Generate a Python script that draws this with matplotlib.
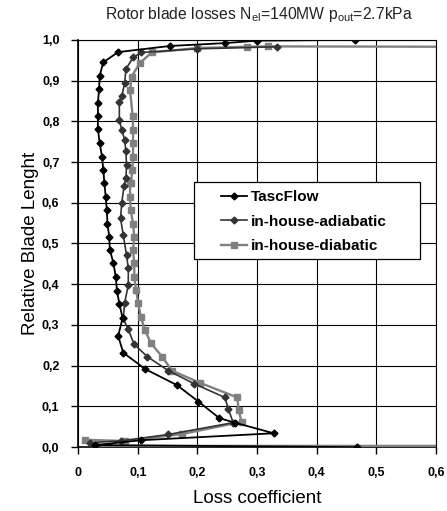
import matplotlib
matplotlib.use("Agg")
import matplotlib.pyplot as plt
from matplotlib.ticker import FixedLocator, FuncFormatter
from matplotlib.patches import Rectangle

plt.rcParams['font.family'] = ['Liberation Sans', 'DejaVu Sans']

# ---- data (loss coefficient vs relative blade length) ----
tasc_x = [0.467, 0.028, 0.106, 0.328, 0.263, 0.237, 0.2015, 0.166, 0.112, 0.0755,
          0.067, 0.0745, 0.069, 0.065, 0.063, 0.059, 0.053, 0.052, 0.049, 0.048,
          0.046, 0.044, 0.042, 0.040, 0.036, 0.033, 0.033, 0.033, 0.035, 0.036,
          0.042, 0.067, 0.154, 0.246, 0.300, 0.465]
tasc_y = [0.000, 0.005, 0.017, 0.034, 0.060, 0.071, 0.112, 0.152, 0.192, 0.232,
          0.273, 0.317, 0.352, 0.384, 0.418, 0.452, 0.485, 0.517, 0.549, 0.582,
          0.615, 0.648, 0.681, 0.713, 0.746, 0.781, 0.812, 0.846, 0.879, 0.912,
          0.945, 0.970, 0.985, 0.992, 0.998, 1.000]

adia_x = [0.030, 0.020, 0.072, 0.151, 0.260, 0.252, 0.246, 0.194, 0.151, 0.116,
          0.0935, 0.084, 0.0755, 0.078, 0.084, 0.084, 0.081, 0.0755, 0.071, 0.073,
          0.077, 0.080, 0.081, 0.080, 0.078, 0.073, 0.069, 0.069, 0.073, 0.078,
          0.080, 0.092, 0.106, 0.200, 0.333]
adia_y = [0.003, 0.011, 0.0155, 0.031, 0.060, 0.093, 0.122, 0.156, 0.188, 0.222,
          0.253, 0.289, 0.316, 0.355, 0.398, 0.439, 0.472, 0.521, 0.562, 0.600,
          0.642, 0.660, 0.693, 0.726, 0.754, 0.779, 0.803, 0.848, 0.861, 0.895,
          0.928, 0.957, 0.969, 0.978, 0.983]

diab_x = [0.650, 0.030, 0.011, 0.078, 0.174, 0.274, 0.269, 0.267, 0.204, 0.157,
          0.141, 0.122, 0.112, 0.105, 0.1007, 0.097, 0.094, 0.094, 0.092, 0.094,
          0.092, 0.088, 0.087, 0.087, 0.0885, 0.0907, 0.092, 0.092, 0.092, 0.0913,
          0.087, 0.0896, 0.1035, 0.123, 0.200, 0.283, 0.319, 0.650]
diab_y = [0.003, 0.003, 0.018, 0.015, 0.032, 0.062, 0.091, 0.122, 0.158, 0.188,
          0.222, 0.255, 0.287, 0.320, 0.353, 0.386, 0.418, 0.451, 0.484, 0.517,
          0.549, 0.582, 0.615, 0.648, 0.648, 0.681, 0.713, 0.746, 0.779, 0.812,
          0.877, 0.910, 0.943, 0.969, 0.980, 0.983, 0.984, 0.983]

series_labels = ["TascFlow", "in-house-adiabatic", "in-house-diabatic"]
x_ticks = [0.0, 0.1, 0.2, 0.3, 0.4, 0.5, 0.6]
y_ticks = [0.0, 0.1, 0.2, 0.3, 0.4, 0.5, 0.6, 0.7, 0.8, 0.9, 1.0]

fig = plt.figure(figsize=(4.47, 5.11), dpi=100)
ax = fig.add_axes([0.175, 0.125, 0.80, 0.797])

ax.plot(tasc_x, tasc_y, color='#000000', lw=1.3, marker='D', ms=3.5,
        label=series_labels[0], zorder=5)
ax.plot(adia_x, adia_y, color='#333333', lw=1.2, marker='D', ms=3.5,
        label=series_labels[1], zorder=4)
ax.plot(diab_x, diab_y, color='#808080', lw=1.7, marker='s', ms=3.8,
        label=series_labels[2], zorder=3)

ax.set_xlim(0, 0.6)
ax.set_ylim(0, 1.0)
ax.xaxis.set_major_locator(FixedLocator(x_ticks))
ax.yaxis.set_major_locator(FixedLocator(y_ticks))

def xfmt(v, pos):
    return "0" if abs(v) < 1e-9 else f"{v:.1f}".replace('.', ',')

def yfmt(v, pos):
    return f"{v:.1f}".replace('.', ',')

ax.xaxis.set_major_formatter(FuncFormatter(xfmt))
ax.yaxis.set_major_formatter(FuncFormatter(yfmt))

ax.grid(True, color='black', lw=0.8)
ax.set_axisbelow(True)
for s in ['left', 'bottom']:
    ax.spines[s].set_linewidth(1.2)
    ax.spines[s].set_color('black')
for s in ['top', 'right']:
    ax.spines[s].set_linewidth(0.8)
    ax.spines[s].set_color('black')

ax.tick_params(axis='both', direction='out', length=5, width=1, color='black',
               labelsize=9)
ax.tick_params(axis='x', pad=9)
ax.tick_params(axis='y', pad=8.5)
for lab in ax.get_xticklabels() + ax.get_yticklabels():
    lab.set_fontweight('bold')

ax.set_xlabel("Loss coefficient", fontsize=13.5, labelpad=8)
ax.set_ylabel("Relative Blade Lenght", fontsize=13.5, labelpad=2)

fig.text(0.58, 0.971, r"Rotor blade losses N$_{\mathregular{el}}$=140MW p$_{\mathregular{out}}$=2.7kPa",
         ha='center', va='center', fontsize=11.3, color='#222222')

# legend frame (Excel style, wide horizontal padding)
ax.add_patch(Rectangle((0.324, 0.461), 0.632, 0.191, transform=ax.transAxes,
                       facecolor='white', edgecolor='black', lw=0.9, zorder=9,
                       clip_on=False))
leg = ax.legend(loc='upper left', bbox_to_anchor=(0.398, 0.631), borderaxespad=0,
                frameon=False, prop={'weight': 'bold', 'size': 11},
                handlelength=1.75, handletextpad=0.25, borderpad=0,
                labelspacing=0.68)
leg.set_zorder(10)

fig.savefig("out.png", dpi=100)
